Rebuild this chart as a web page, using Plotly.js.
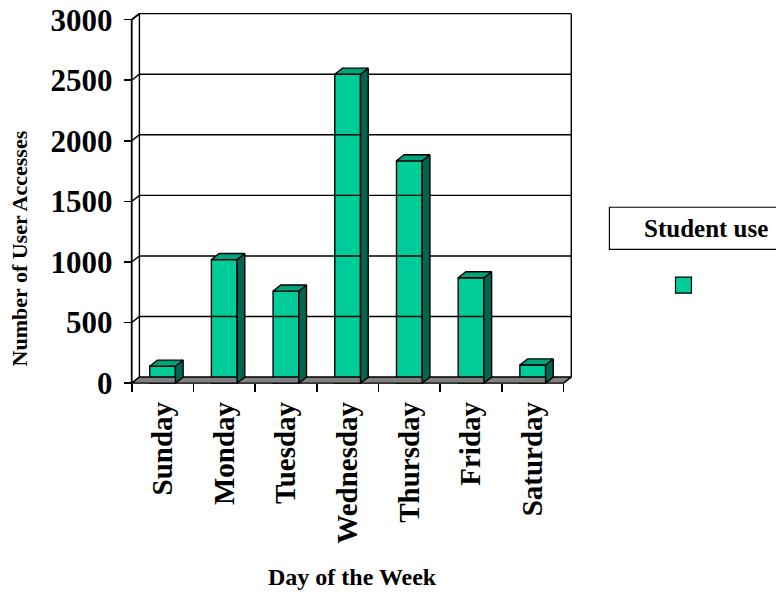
<!DOCTYPE html>
<html><head><meta charset="utf-8">
<script src="https://cdn.plot.ly/plotly-3.0.1.min.js"></script>
<style>html,body{margin:0;padding:0;background:#fff}</style>
</head><body><div id="chart" style="width:776px;height:592px"></div>
<script>
// ---- data ----
const days = ['Sunday', 'Monday', 'Tuesday', 'Wednesday', 'Thursday', 'Friday', 'Saturday'];
const studentUse = [140, 1020, 760, 2550, 1835, 870, 150];
const yTicks = [0, 500, 1000, 1500, 2000, 2500, 3000];
const seriesName = 'Student use';
const xTitle = 'Day of the Week';
const yTitle = 'Number of User Accesses';

// ---- style constants ----
const FONT = 'Liberation Serif, "Times New Roman", serif';
const FRONT = '#00CC99', TOP = '#00A37A', SIDE = '#006650', FLOOR = '#808080';
const DX = 0.125, DY = 50, BW = 0.417;          // 3-D depth offset (axis units), bar width
const N = days.length;
const YMAX = yTicks[yTicks.length - 1];
const X0 = -0.06, X1 = N + DX + 0.06, Y0 = -40, Y1 = YMAX + DY + 30;
const W = 776, H = 592, L = 128, T = 10.3, PW = 446.6, PH = 377.5;
const px2x = p => (p - L) / PW, px2y = p => (T + PH - p) / PH;

const centers = days.map((d, i) => i + 0.5);
const bounds = Array.from({length: N + 1}, (_, i) => i);

// back wall / side wall gridlines
const gx = [], gy = [];
yTicks.forEach(v => { gx.push(0, DX, N + DX, null); gy.push(v, v + DY, v + DY, null); });
gx.push(DX, DX, null, N + DX, N + DX, null); gy.push(DY, YMAX + DY, null, DY, YMAX + DY, null);
// front axis line
const ax = [0, 0, DX], ay = [0, YMAX, YMAX + DY];
// floor
const fx = [0, N, N + DX, DX, 0], fy = [0, 0, DY, DY, 0];
// bar side and top faces
const sx = [], sy = [], tx = [], ty = [];
studentUse.forEach((v, i) => {
  const l = centers[i] - BW / 2, r = centers[i] + BW / 2;
  sx.push(r, r + DX, r + DX, r, r, null); sy.push(0, DY, v + DY, v, 0, null);
  tx.push(l, r, r + DX, l + DX, l, null); ty.push(v, v, v + DY, v + DY, v, null);
});

const line1 = {color: '#000', width: 1.4};
const traces = [
  {type: 'scatter', mode: 'lines', x: gx, y: gy, line: line1, hoverinfo: 'skip', showlegend: false},
  {type: 'scatter', mode: 'lines', x: fx, y: fy, fill: 'toself', fillcolor: FLOOR, line: line1, hoverinfo: 'skip', showlegend: false},
  {type: 'scatter', mode: 'lines', x: ax, y: ay, line: {color: '#000', width: 1.8}, hoverinfo: 'skip', showlegend: false},
  {type: 'scatter', mode: 'lines', x: sx, y: sy, fill: 'toself', fillcolor: SIDE, line: line1, hoverinfo: 'skip', showlegend: false},
  {type: 'scatter', mode: 'lines', x: tx, y: ty, fill: 'toself', fillcolor: TOP, line: line1, hoverinfo: 'skip', showlegend: false},
  {type: 'bar', x: centers, y: studentUse, width: BW, name: seriesName, showlegend: false, legendgroup: 's',
   marker: {color: FRONT, line: line1}},
  {type: 'scatter', mode: 'markers', x: [null], y: [null], name: ' ', legendgroup: 's',
   marker: {symbol: 'square', size: 16, color: FRONT, line: {color: '#000', width: 1.2}}}
];

const layout = {
  width: W, height: H, margin: {l: L, r: W - L - PW, t: T, b: H - T - PH, pad: 0},
  paper_bgcolor: '#fff', plot_bgcolor: 'rgba(0,0,0,0)',
  font: {family: FONT, color: '#000'},
  xaxis: {range: [X0, X1], anchor: 'free', position: (0 - Y0) / (Y1 - Y0),
    showgrid: false, zeroline: false, showline: false,
    tickmode: 'array', tickvals: centers, ticktext: days, ticks: '', tickangle: -90,
    ticklabelstandoff: 12, tickfont: {family: FONT, size: 29, weight: 'bold', color: '#000'},
    minor: {tickmode: 'array', tickvals: bounds, ticks: 'outside', ticklen: 8, tickwidth: 1.6, tickcolor: '#000'}},
  yaxis: {range: [Y0, Y1], anchor: 'free', position: (0 - X0) / (X1 - X0),
    showgrid: false, zeroline: false, showline: false,
    tickmode: 'array', tickvals: yTicks, ticktext: yTicks.map(String), ticks: 'outside', ticklen: 8,
    tickwidth: 1.6, tickcolor: '#000', ticklabelstandoff: 5,
    tickfont: {family: FONT, size: 31, weight: 'bold', color: '#000'}},
  showlegend: true,
  legend: {x: px2x(663), xanchor: 'left', y: px2y(285.5), yanchor: 'middle', bgcolor: 'rgba(0,0,0,0)',
    borderwidth: 0, font: {family: FONT, size: 14}},
  shapes: [{type: 'rect', xref: 'paper', yref: 'paper', x0: px2x(609), x1: px2x(802), y0: px2y(249.3), y1: px2y(207.3),
    line: {color: '#000', width: 1.2}, fillcolor: 'rgba(0,0,0,0)'}],
  annotations: [
    {text: seriesName, xref: 'paper', yref: 'paper', x: px2x(705.5), y: px2y(229), xanchor: 'center', yanchor: 'middle',
     showarrow: false, font: {family: FONT, size: 25, weight: 'bold'}},
    {text: yTitle, xref: 'paper', yref: 'paper', x: px2x(20), y: px2y(248.5), xanchor: 'center', yanchor: 'middle',
     textangle: -90, showarrow: false, font: {family: FONT, size: 22, weight: 'bold'}},
    {text: xTitle, xref: 'paper', yref: 'paper', x: px2x(352), y: px2y(576.5), xanchor: 'center', yanchor: 'middle',
     showarrow: false, font: {family: FONT, size: 24, weight: 'bold'}}
  ]
};
Plotly.newPlot('chart', traces, layout, {staticPlot: true, displayModeBar: false});
</script></body></html>
